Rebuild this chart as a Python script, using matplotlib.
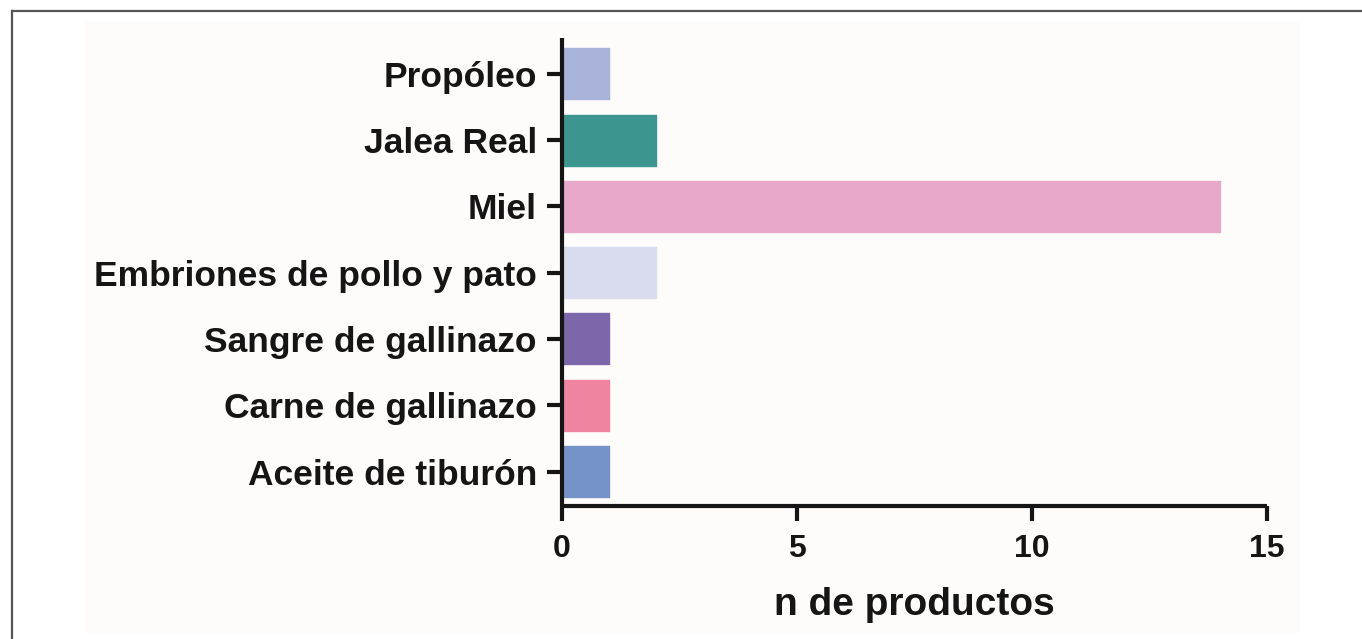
import matplotlib
matplotlib.use("Agg")
import matplotlib.pyplot as plt
from matplotlib.patches import Rectangle
from matplotlib.lines import Line2D

categories = ["Aceite de tiburón", "Carne de gallinazo", "Sangre de gallinazo",
              "Embriones de pollo y pato", "Miel", "Jalea Real", "Propóleo"]
values = [1, 1, 1, 2, 14, 2, 1]
colors = ["#7593c8", "#ef84a0", "#7b67aa", "#d9dcef", "#e8a8c9", "#3d9590", "#a9b3da"]
xticks = [0, 5, 10, 15]
xlabel = "n de productos"

plt.rcParams["font.family"] = ["Liberation Sans", "DejaVu Sans"]
plt.rcParams["font.weight"] = "bold"

W, H = 1362, 639
fig = plt.figure(figsize=(W / 100, H / 100), dpi=100, facecolor="white")

# light panel behind the chart
fig.patches.append(Rectangle((85 / W, 1 - 633 / H), (1300 - 85) / W, (633 - 22) / H,
                             transform=fig.transFigure, facecolor="#fdfcfa",
                             edgecolor="none", zorder=-10))
# outer frame (top and left edges)
fig.lines.append(Line2D([12 / W, 1.0], [1 - 11 / H, 1 - 11 / H], transform=fig.transFigure,
                        color="#555555", lw=1.6, zorder=-5))
fig.lines.append(Line2D([12 / W, 12 / W], [0, 1 - 11 / H], transform=fig.transFigure,
                        color="#555555", lw=1.6, zorder=-5))

ax = fig.add_axes([562 / W, 1 - 506 / H, (1267 - 562) / W, (506 - 38) / H], zorder=1)
ax.set_facecolor("none")

pos = list(range(len(categories)))
ax.barh(pos, values, height=0.77, color=colors, edgecolor=colors, linewidth=1.0,
        joinstyle="round", zorder=2)

ax.set_xlim(0, 15)
ax.set_ylim(-0.52, 6.54)
ax.set_xticks(xticks)
ax.set_xticklabels([str(t) for t in xticks])
ax.set_yticks(pos)
ax.set_yticklabels(categories)

for s in ["top", "right"]:
    ax.spines[s].set_visible(False)
for s in ["left", "bottom"]:
    ax.spines[s].set_linewidth(3)
    ax.spines[s].set_color("#151515")
    ax.spines[s].set_capstyle("butt")

ax.tick_params(axis="y", length=11, width=3, color="#151515", pad=7,
               labelsize=25.5, labelcolor="#151515")
ax.tick_params(axis="x", length=11, width=3, color="#151515", pad=9,
               labelsize=23, labelcolor="#151515")
for lab in ax.get_xticklabels() + ax.get_yticklabels():
    lab.set_fontweight("bold")

ax.set_xlabel(xlabel, fontsize=28, fontweight="bold", color="#151515", labelpad=17)

fig.savefig("out.png", dpi=100, facecolor="white")
